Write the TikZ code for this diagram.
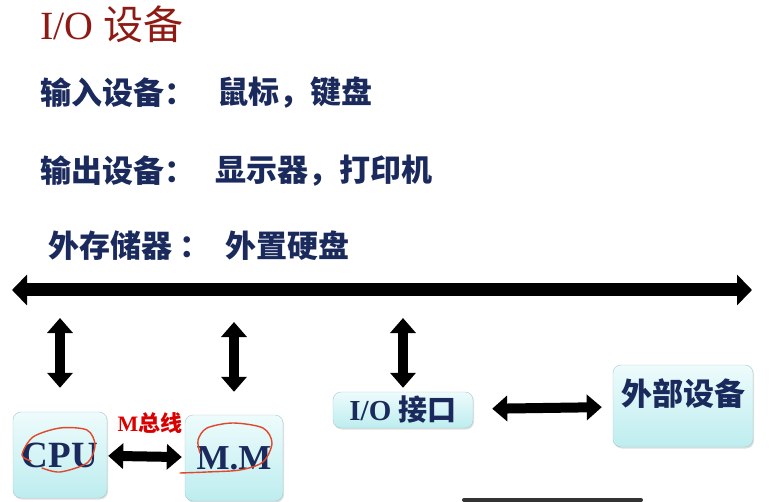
\documentclass[tikz,border=0pt]{standalone}
\usepackage{fontspec}
\setmainfont{Liberation Serif}
\newfontfamily\cjk{Noto Sans CJK SC}
\usetikzlibrary{arrows.meta,positioning,shadows}

\definecolor{titlered}{HTML}{8E1A14}
\definecolor{textnavy}{HTML}{1B2A5C}
\definecolor{boxtop}{HTML}{EEFBFC}
\definecolor{boxbot}{HTML}{BDEDEF}
\definecolor{boxline}{HTML}{A9C9CC}
\definecolor{penred}{HTML}{E0482A}

\begin{document}
\begin{tikzpicture}[
  x=1pt,y=-1pt,
  box/.style={draw=boxline,rounded corners=8pt,top color=boxtop,bottom color=boxbot,
    drop shadow={opacity=0.25,shadow xshift=1pt,shadow yshift=-1.5pt},inner sep=0pt,text=textnavy},
  row/.style={anchor=west,inner sep=0pt,text=textnavy,font=\cjk\bfseries\fontsize{31}{33}\selectfont},
  bus/.style={line width=13pt,{Triangle[length=15pt,width=30pt]}-{Triangle[length=15pt,width=30pt]}},
  link/.style={line width=10pt,{Triangle[length=15pt,width=25pt]}-{Triangle[length=15pt,width=25pt]}},
  pen/.style={penred,line width=1.4pt,line cap=round,line join=round}
]
  \useasboundingbox (0,0) rectangle (773,502);

  % title and rows
  \node[anchor=west,inner sep=0pt,text=titlered,font=\fontsize{40}{42}\selectfont] (title) at (40,24) {I/O {\cjk 设备}};
  \node[row] (inLbl) at (40,93) {输入设备：};
  \node[row] (inVal) at (217,93) {鼠标，键盘};
  \node[row] (outLbl) at (40,171) {输出设备：};
  \node[row] (outVal) at (215,171) {显示器，打印机};
  \node[row] (stLbl) at (48,246) {外存储器 ：};
  \node[row] (stVal) at (225,246) {外置硬盘};

  % system bus
  \coordinate (busL) at (12,290);
  \coordinate (busR) at (752,290);
  \draw[bus] (busL) -- (busR);

  % units
  \node[box,minimum width=94pt,minimum height=86pt,font=\bfseries\fontsize{37}{39}\selectfont] (cpu) at (60,455) {CPU};
  \node[box,minimum width=98pt,minimum height=86pt,font=\bfseries\fontsize{35}{37}\selectfont] (mm) at (234,458) {M.M};
  \node[box,minimum width=140pt,minimum height=36pt,font=\bfseries\fontsize{29}{31}\selectfont] (io) at (403,410) {I/O {\cjk 接口}};
  \node[box,minimum width=140pt,minimum height=82pt,
    label={[anchor=north,yshift=-14pt,inner sep=0pt,text=textnavy,font=\cjk\bfseries\fontsize{31}{33}\selectfont]north:外部设备}] (ext) at (683,406) {};
  \node[text=red!85!black,inner sep=0pt,font=\bfseries\fontsize{22}{24}\selectfont] (mbus) at (150,423) {M{\cjk 总线}};

  % links
  \draw[link,shorten <=28pt,shorten >=24pt] (cpu.north |- busL) -- (cpu.north);
  \draw[link,shorten <=32pt,shorten >=23pt] (mm.north |- busL) -- (mm.north);
  \draw[link,shorten <=28pt,shorten >=4pt] (io.north |- busL) -- (io.north);
  \draw[link,shorten <=1pt,shorten >=3pt] (cpu) -- (mm);
  \draw[link,shorten <=19pt,shorten >=11pt] (io) -- (ext);

  % hand-drawn marks
  \draw[pen] plot[smooth] coordinates {(31,461) (22,455) (33,437) (60,428) (87,430) (95,445) (87,463) (60,472) (42,468)};
  \draw[pen] plot[smooth] coordinates {(180,473) (207,472) (240,470) (263,462) (272,443) (263,428) (233,423) (207,428) (198,440) (200,453)};

  % player bar
  \fill[black!80,rounded corners=2pt] (462,498) rectangle (643,502);
\end{tikzpicture}
\end{document}
